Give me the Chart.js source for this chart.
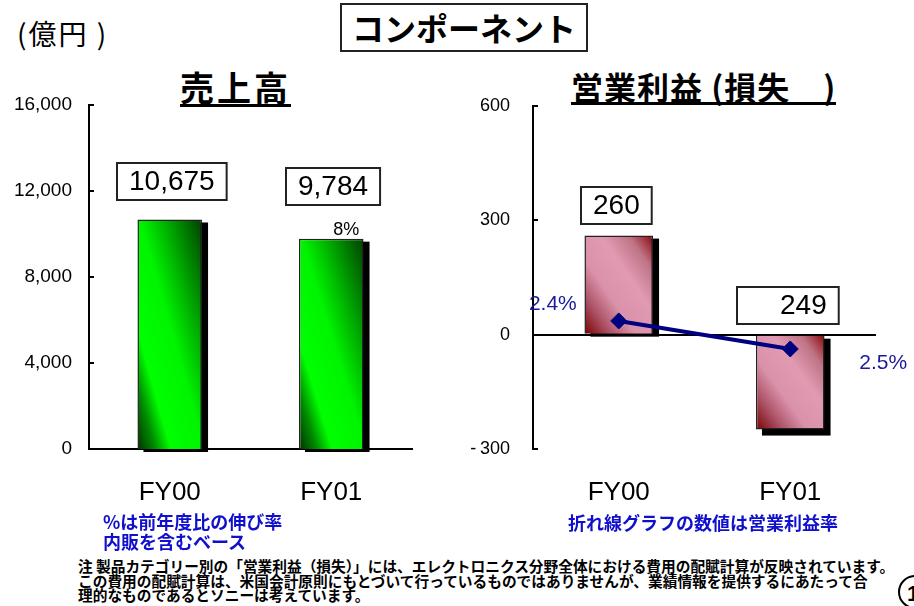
<!DOCTYPE html>
<html>
<head>
<meta charset="utf-8">
<script src="https://cdn.jsdelivr.net/npm/chart.js@4.4.1/dist/chart.umd.min.js"></script>
<style>
  body { margin: 0; width: 914px; height: 606px; overflow: hidden; background: #fff; position: relative;
         font-family: "Noto Sans CJK JP", "Noto Sans", sans-serif; color: #000; }
  .abs { position: absolute; white-space: nowrap; line-height: 1; }
  #unit { left: 17px; top: 19px; font-size: 28px; letter-spacing: 2px; }
  #mainTitle { left: 340px; top: 3px; width: 248px; height: 49px; box-sizing: border-box; border: 2px solid #222;
               font-size: 32px; font-weight: 700; text-align: center; line-height: 44px; }
  .subTitle { top: 70px; font-size: 32px; font-weight: 700; border-bottom: 3px solid #000; }
  #salesTitle { left: 180px; font-size: 34px; letter-spacing: 3px; }
  #profitTitle { left: 571px; letter-spacing: 1px; }
  .blueNote { font-size: 18px; font-weight: 700; color: #1010cc; line-height: 20px; }
  #note { left: 78px; top: 559px; font-size: 14.7px; font-weight: 700; line-height: 14.5px; }
  #pageNo { left: 898px; top: 575px; width: 34px; height: 34px; border: 2px solid #000; border-radius: 50%;
            font: 700 22px "Liberation Sans", Arial, sans-serif; line-height: 34px; padding-left: 7px; box-sizing: border-box; }
  .chartBox { position: absolute; top: 0; height: 510px; }
</style>
</head>
<body>
<div class="abs" id="unit">(億円 )</div>
<div class="abs" id="mainTitle">コンポーネント</div>
<div class="abs subTitle" id="salesTitle">売上高</div>
<div class="abs subTitle" id="profitTitle">営業利益 (損失　)</div>

<div class="chartBox" style="left:0;width:460px"><canvas id="salesChart" width="460" height="510"></canvas></div>
<div class="chartBox" style="left:460px;width:454px"><canvas id="profitChart" width="454" height="510"></canvas></div>

<div class="abs blueNote" style="left:103px;top:511px">%は前年度比の伸び率<br>内販を含むベース</div>
<div class="abs blueNote" style="left:568px;top:512px">折れ線グラフの数値は営業利益率</div>
<div class="abs" id="note">注 製品カテゴリー別の「営業利益（損失）」には、エレクトロニクス分野全体における費用の配賦計算が反映されています。<br>この費用の配賦計算は、米国会計原則にもとづいて行っているものではありませんが、業績情報を提供するにあたって合<br>理的なものであるとソニーは考えています。</div>
<div class="abs" id="pageNo">1</div>

<script>
// Data
const categories = ['FY00', 'FY01'];
const salesValues = [10675, 9784];
const salesChangeLabels = [null, '8%'];
const salesTicks = [0, 4000, 8000, 12000, 16000];
const profitValues = [260, -249];
const profitTicks = [-300, 0, 300, 600];
const marginValues = [2.4, -2.5];
const marginLabels = ['2.4%', '2.5%'];

// Styling
const BAR_PCT = 0.4;
const numFont = '"Liberation Sans", Arial, sans-serif';
const greenStops = [[0, '#003000'], [0.14, '#008c00'], [0.26, '#00ff00'], [0.52, '#00f400'], [0.7, '#00b400'], [1, '#004000']];
const pinkStops = [[0, '#7a0000'], [0.2, '#ad5468'], [0.38, '#da92aa'], [0.62, '#e09ab2'], [0.82, '#bf7486'], [1, '#880608']];
const marginLabelOffsets = [[-42, -17, 'right'], [69, 14, 'left']];

// Diagonal gradient fill, computed from the chart's scales
function barFill(stops) {
  return (c) => {
    const chart = c.chart;
    const xs = chart.scales.x, ys = chart.scales.y;
    const fallback = stops[2][1];
    if (c.type !== 'data' || !xs || !ys || !chart.chartArea) return fallback;
    const cx = xs.getPixelForValue(c.dataIndex);
    const w = xs.width / categories.length * BAR_PCT;
    const y0 = ys.getPixelForValue(c.raw), y1 = ys.getPixelForValue(0);
    if (![cx, w, y0, y1].every(Number.isFinite) || w <= 0) return fallback;
    const top = Math.min(y0, y1), h = Math.max(Math.abs(y1 - y0), 1);
    const left = cx - w / 2;
    const k = 2 * w * h / (w * w + h * h);
    const g = chart.ctx.createLinearGradient(left, top + h, left + h * k, top + h - w * k);
    stops.forEach(s => g.addColorStop(s[0], s[1]));
    return g;
  };
}

// Black drop shadow behind each bar
const barShadow = {
  id: 'barShadow',
  beforeDatasetsDraw(chart) {
    const ctx = chart.ctx;
    ctx.save();
    ctx.fillStyle = '#000';
    chart.getDatasetMeta(0).data.forEach(bar => {
      const top = Math.min(bar.y, bar.base), bottom = Math.max(bar.y, bar.base);
      const neg = bar.y > bar.base;
      ctx.fillRect(bar.x - bar.width / 2 + 6, top + 3, bar.width, bottom - top + (neg ? 3 : 0));
    });
    ctx.restore();
  }
};

// Boxed value labels above the bars (and small growth note)
const valueBoxes = {
  id: 'valueBoxes',
  afterDatasetsDraw(chart, args, opts) {
    const ctx = chart.ctx;
    const values = chart.data.datasets[0].data;
    ctx.save();
    chart.getDatasetMeta(0).data.forEach((bar, i) => {
      const v = values[i];
      const neg = v < 0;
      const text = Math.abs(v).toLocaleString('en-US');
      ctx.font = '28px ' + numFont;
      const tw = ctx.measureText(text).width;
      const w = tw + 24 + (neg ? 31 : 0), h = 37;
      const top = Math.min(bar.y, bar.base);
      const note = opts.notes ? opts.notes[i] : null;
      const bottom = top - opts.gap - (note ? 15 : 0);
      const cx = bar.x + opts.shift;
      const bx = Math.round(cx - w / 2), by = Math.round(bottom - h);
      ctx.fillStyle = '#fff';
      ctx.fillRect(bx, by, w, h);
      ctx.strokeStyle = '#222';
      ctx.lineWidth = 2;
      ctx.strokeRect(bx, by, w, h);
      ctx.fillStyle = '#000';
      ctx.textAlign = 'right';
      ctx.textBaseline = 'middle';
      ctx.fillText(text, bx + w - 12, by + h / 2 + 1);
      if (note) {
        ctx.font = '18px ' + numFont;
        ctx.textAlign = 'center';
        ctx.textBaseline = 'alphabetic';
        ctx.fillText(note, bar.x + 15, top - 4);
      }
    });
    ctx.restore();
  }
};

// Short tick marks pointing into the plot
const innerTicks = {
  id: 'innerTicks',
  afterDraw(chart) {
    const ys = chart.scales.y, ctx = chart.ctx;
    ctx.save();
    ctx.strokeStyle = '#000';
    ctx.lineWidth = 2;
    ys.ticks.forEach(t => {
      const py = Math.round(ys.getPixelForValue(t.value));
      ctx.beginPath();
      ctx.moveTo(ys.right, py);
      ctx.lineTo(ys.right + 5, py);
      ctx.stroke();
    });
    ctx.restore();
  }
};

// Operating margin labels next to the line points
const marginText = {
  id: 'marginText',
  afterDatasetsDraw(chart) {
    const ctx = chart.ctx;
    ctx.save();
    ctx.font = '21px ' + numFont;
    ctx.fillStyle = '#1a1a99';
    ctx.textBaseline = 'middle';
    chart.getDatasetMeta(1).data.forEach((pt, i) => {
      const o = marginLabelOffsets[i];
      ctx.textAlign = o[2];
      ctx.fillText(marginLabels[i], pt.x + o[0], pt.y + o[1]);
    });
    ctx.restore();
  }
};

function xAxis(showBorder) {
  return {
    grid: { display: false, drawTicks: false },
    border: { display: showBorder, color: '#000', width: 2 },
    ticks: { color: '#000', font: { family: numFont, size: 26 }, padding: 28 },
    afterFit: s => { s.height = 61; }
  };
}

// Left chart: sales
new Chart(document.getElementById('salesChart'), {
  type: 'bar',
  data: {
    labels: categories,
    datasets: [{
      data: salesValues,
      backgroundColor: barFill(greenStops),
      borderColor: '#222',
      borderWidth: 1.5,
      barPercentage: BAR_PCT,
      categoryPercentage: 1
    }]
  },
  options: {
    responsive: false,
    animation: false,
    layout: { padding: { top: 105, right: 48, bottom: 0, left: 0 } },
    plugins: {
      legend: { display: false },
      tooltip: { enabled: false },
      valueBoxes: { gap: 19, shift: 2, notes: salesChangeLabels }
    },
    scales: {
      x: xAxis(true),
      y: {
        min: 0, max: 16000,
        afterBuildTicks: s => { s.ticks = salesTicks.map(v => ({ value: v })); },
        grid: { display: false, drawTicks: false },
        border: { display: true, color: '#000', width: 2 },
        ticks: { color: '#000', font: { family: numFont, size: 19 }, padding: 17,
                 callback: v => v.toLocaleString('en-US') },
        afterFit: s => { s.width = 89; }
      }
    }
  },
  plugins: [barShadow, valueBoxes, innerTicks]
});

// Right chart: operating income (loss) with margin line
new Chart(document.getElementById('profitChart'), {
  type: 'bar',
  data: {
    labels: categories,
    datasets: [{
      type: 'bar',
      data: profitValues,
      backgroundColor: barFill(pinkStops),
      borderColor: '#222',
      borderWidth: 1.5,
      barPercentage: BAR_PCT,
      categoryPercentage: 1,
      order: 1
    }, {
      type: 'line',
      data: marginValues,
      yAxisID: 'y2',
      borderColor: '#000080',
      borderWidth: 4,
      pointStyle: 'rectRot',
      pointRadius: 8,
      pointBackgroundColor: '#000080',
      pointBorderColor: '#000080',
      pointBorderWidth: 1,
      order: 0
    }]
  },
  options: {
    responsive: false,
    animation: false,
    layout: { padding: { top: 106, right: 38, bottom: 0, left: 0 } },
    plugins: {
      legend: { display: false },
      tooltip: { enabled: false },
      valueBoxes: { gap: 12, shift: -2, notes: null }
    },
    scales: {
      x: xAxis(false),
      y: {
        min: -300, max: 600,
        afterBuildTicks: s => { s.ticks = profitTicks.map(v => ({ value: v })); },
        grid: { drawTicks: false, lineWidth: 2,
                color: c => c.tick && c.tick.value === 0 ? '#000' : 'rgba(0,0,0,0)' },
        border: { display: true, color: '#000', width: 2 },
        ticks: { color: '#000', font: { family: numFont, size: 18 }, padding: 23,
                 callback: v => v < 0 ? '-\u2009' + Math.abs(v) : v.toLocaleString('en-US') },
        afterFit: s => { s.width = 73; }
      },
      y2: { display: false, min: -20, max: 40 }
    }
  },
  plugins: [barShadow, valueBoxes, innerTicks, marginText]
});
</script>
</body>
</html>
